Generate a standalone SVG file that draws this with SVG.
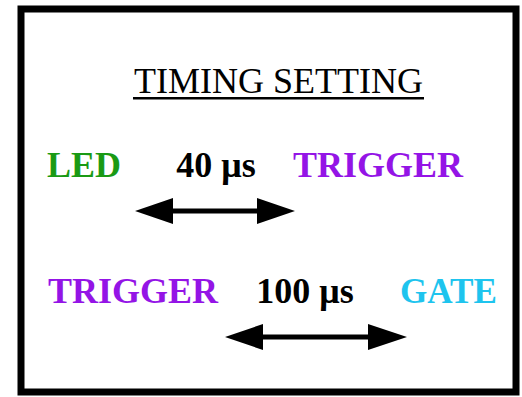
<svg xmlns="http://www.w3.org/2000/svg" width="522" height="397" viewBox="0 0 522 397">
<style>
.lbl{font-family:"Liberation Serif","Times New Roman",serif;font-weight:bold;font-size:36px}
.title{font-family:"Liberation Serif","Times New Roman",serif;font-size:36px;fill:#000}
.arrow{stroke:#000;stroke-width:5;fill:none}
.head{fill:#000}
</style>
<rect x="0" y="0" width="522" height="397" fill="#fff"/>
<rect x="21" y="9" width="495" height="383" fill="#fff" stroke="#000" stroke-width="7"/>
<g id="title">
<text class="title" x="278.5" y="93" text-anchor="middle">TIMING SETTING</text>
<rect x="133" y="97" width="291" height="2.5" fill="#000"/>
</g>
<g id="led"><text class="lbl" x="47" y="177" fill="#1a9a14">LED</text></g>
<g id="t40"><text class="lbl" x="216" y="177" fill="#000" text-anchor="middle">40 μs</text></g>
<g id="trigger1"><text class="lbl" x="293" y="177" fill="#9414e6">TRIGGER</text></g>
<g id="trigger2"><text class="lbl" x="48" y="303" fill="#9414e6">TRIGGER</text></g>
<g id="t100"><text class="lbl" x="305" y="303" fill="#000" text-anchor="middle">100 μs</text></g>
<g id="gate"><text class="lbl" x="400" y="303" fill="#1ec4ee" textLength="97" lengthAdjust="spacingAndGlyphs">GATE</text></g>
<g id="connectors">
<line class="arrow" x1="170" y1="211" x2="260" y2="211"/>
<polygon class="head" points="135,211 173,198 173,224"/>
<polygon class="head" points="295,211 257,198 257,224"/>
<line class="arrow" x1="260" y1="337" x2="371" y2="337"/>
<polygon class="head" points="225,337 263,324 263,350"/>
<polygon class="head" points="407,337 368,324 368,350"/>
</g>
</svg>
